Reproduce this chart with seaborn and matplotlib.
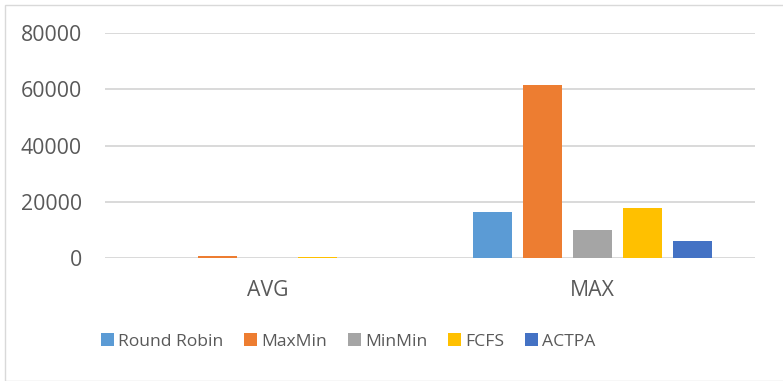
import matplotlib
matplotlib.use("Agg")
import matplotlib.pyplot as plt
import seaborn as sns
import pandas as pd
from matplotlib.patches import Rectangle

categories = ["AVG", "MAX"]
series_names = ["Round Robin", "MaxMin", "MinMin", "FCFS", "ACTPA"]
round_robin = [150, 16200]
maxmin = [600, 61400]
minmin = [100, 9850]
fcfs = [250, 17800]
actpa = [100, 5900]
y_ticks = [0, 20000, 40000, 60000, 80000]
colors = ["#5B9BD5", "#ED7D31", "#A5A5A5", "#FFC000", "#4472C4"]

rows = []
for name, vals in zip(series_names, [round_robin, maxmin, minmin, fcfs, actpa]):
    for c, v in zip(categories, vals):
        rows.append({"cat": c, "series": name, "value": v})
df = pd.DataFrame(rows)

sns.set_theme(style="white")
plt.rcParams["font.family"] = ["Open Sans", "DejaVu Sans"]

W, H = 783, 381
fig = plt.figure(figsize=(W / 100, H / 100), dpi=100)
ax = fig.add_axes([105 / W, 1 - 258 / H, 650 / W, 225 / H])

sns.barplot(data=df, x="cat", y="value", hue="series", order=categories,
            hue_order=series_names, palette=colors, width=0.77, gap=0.22,
            saturation=1, ax=ax, legend=True, zorder=3,
            edgecolor="none", linewidth=0)

ax.set_ylim(0, 80000)
ax.set_xlim(-0.5, 1.5)
ax.set_yticks(y_ticks)
ax.set_yticklabels([str(t) for t in y_ticks])
ax.yaxis.grid(True, color="#D9D9D9", linewidth=1.4, zorder=0)
ax.set_axisbelow(True)
for s in ax.spines.values():
    s.set_visible(False)
ax.set_xlabel("")
ax.set_ylabel("")
ax.tick_params(axis="both", length=0, labelsize=15.3, colors="#595959")
ax.tick_params(axis="y", pad=16.5)
ax.tick_params(axis="x", pad=16)

handles, labels = ax.get_legend_handles_labels()
ax.legend_.remove()
fig.legend(handles, labels, loc="center left", bbox_to_anchor=(101 / W, 1 - 341.5 / H),
           ncol=5, frameon=False, borderpad=0, borderaxespad=0,
           prop={"family": ["Open Sans", "DejaVu Sans"], "size": 12.6},
           labelcolor="#595959", handlelength=0.72, handleheight=0.72,
           handletextpad=0.25, columnspacing=1.2)

fig.patches.append(Rectangle((4.5 / W, 0.5 / H), (W + 10) / W, (H - 5) / H,
                             transform=fig.transFigure, fill=False,
                             edgecolor="#D9D9D9", linewidth=1.0))

fig.savefig("out.png", dpi=100)
